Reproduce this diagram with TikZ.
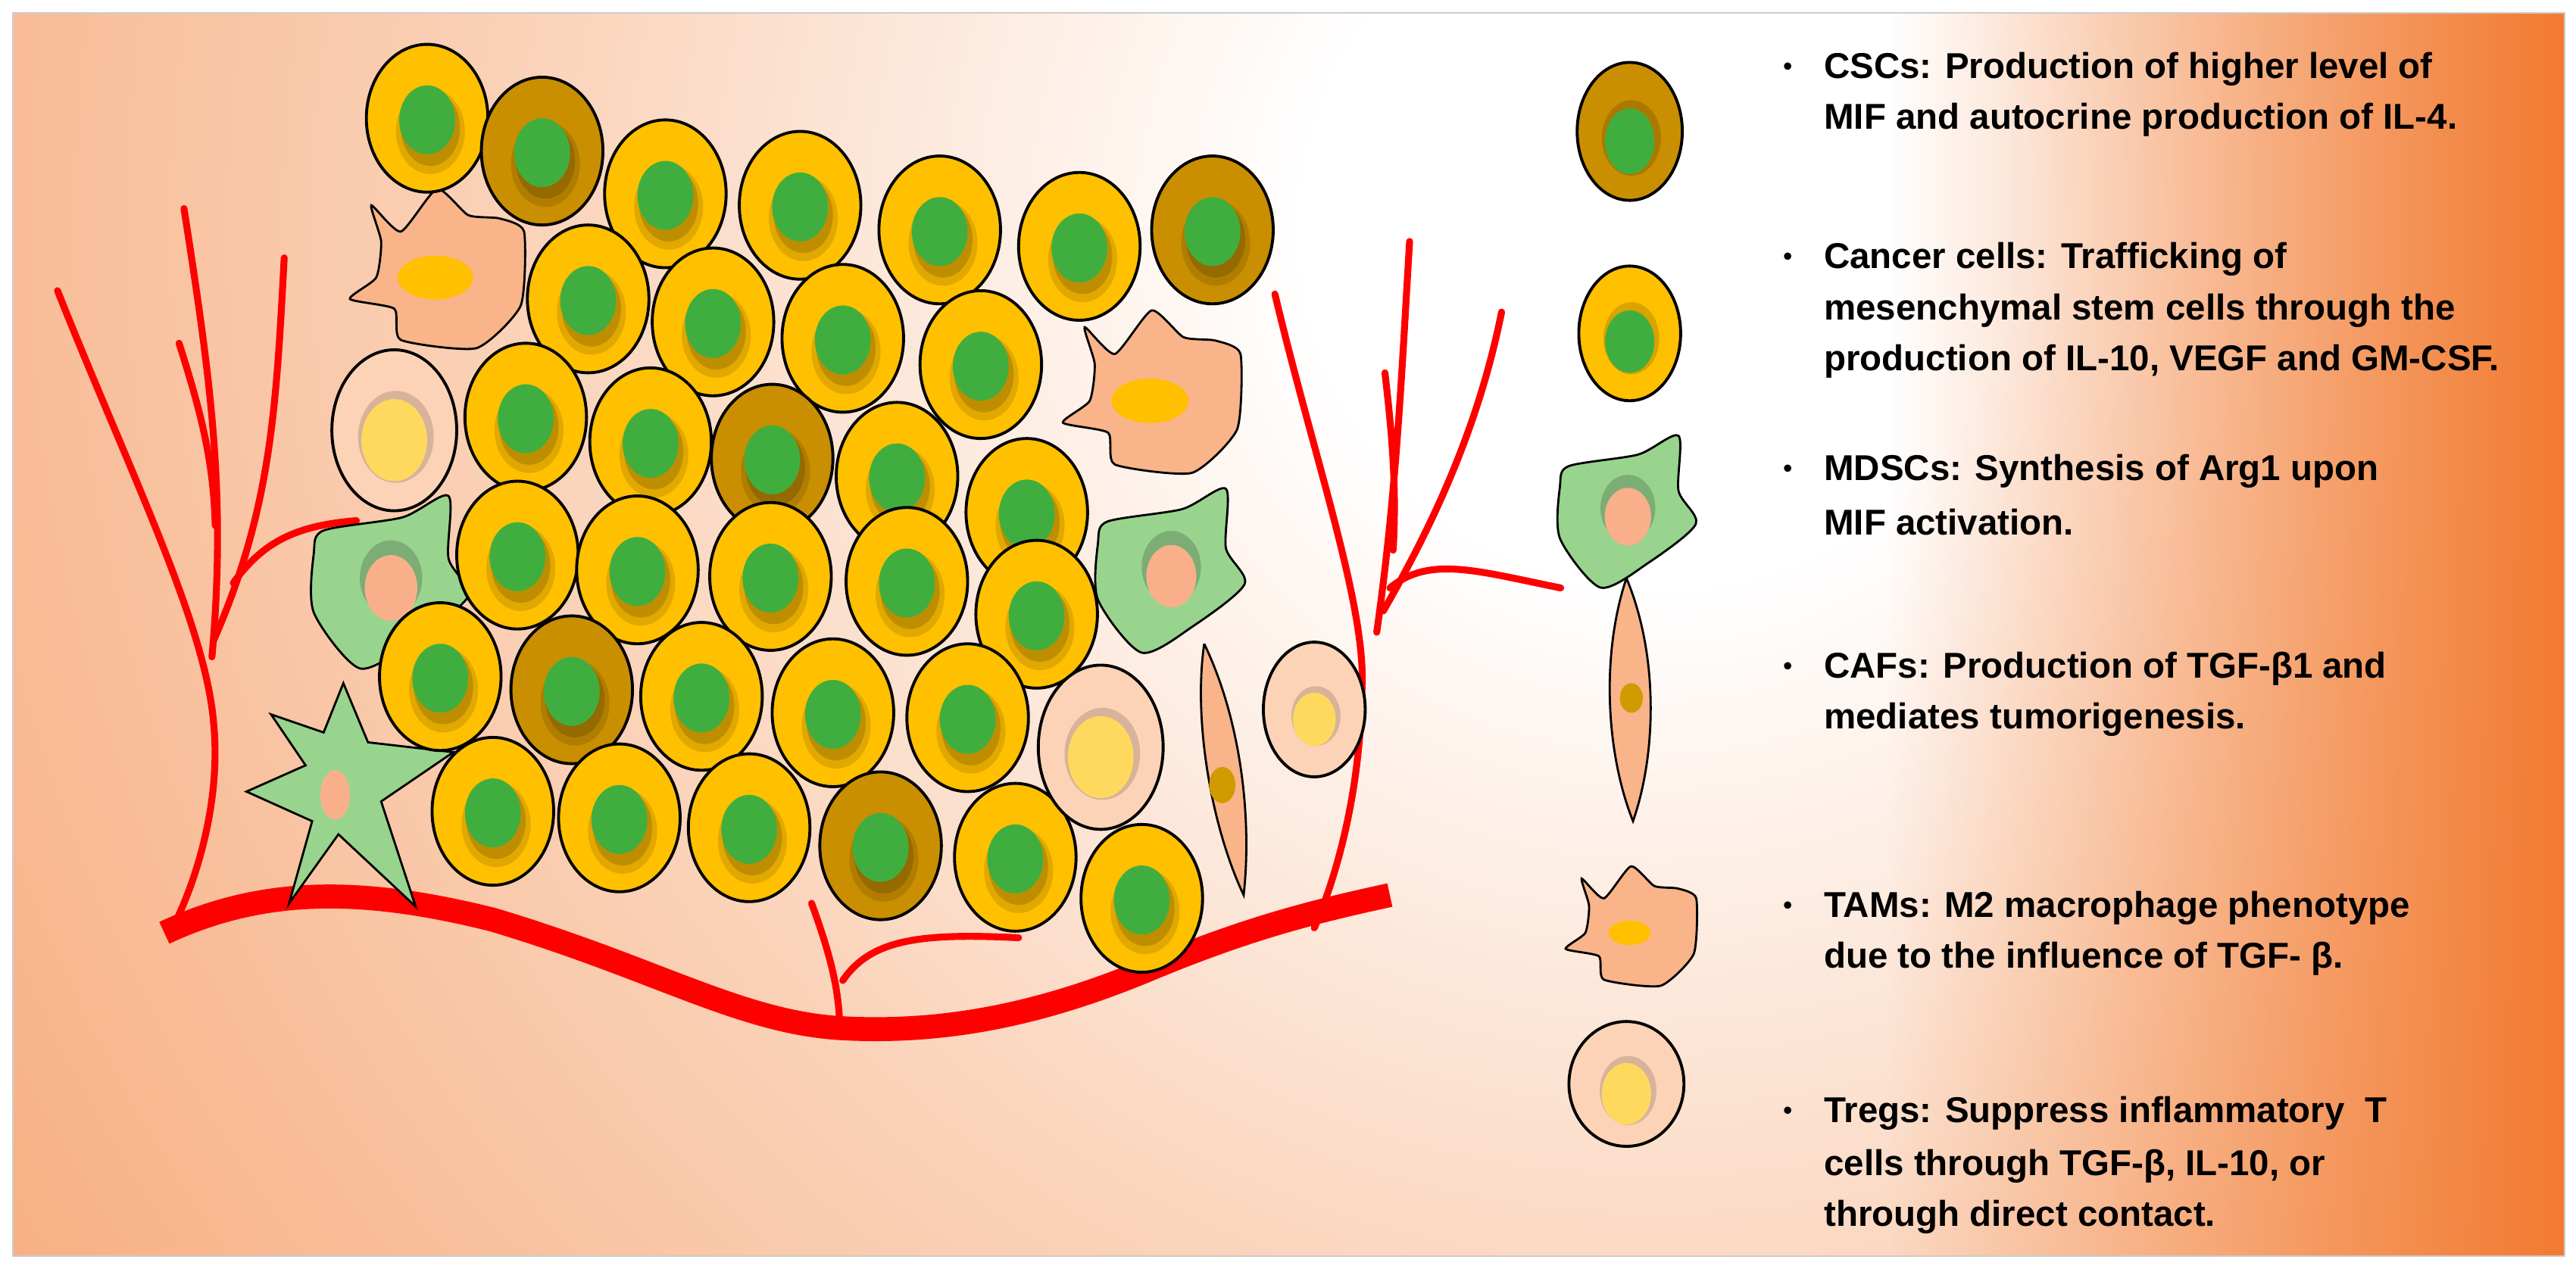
\documentclass[tikz,border=0pt]{standalone}
\usepackage{fontspec}
\setmainfont{Liberation Sans}
\usetikzlibrary{fadings}
\definecolor{cy}{HTML}{FFC000}
\definecolor{ccsc}{HTML}{C98F00}
\definecolor{cg}{HTML}{40AE3F}
\definecolor{tregF}{HTML}{FCD3B6}
\definecolor{tregN}{HTML}{FFD95E}
\definecolor{tamF}{HTML}{F9B48A}
\definecolor{mdF}{HTML}{98D48E}
\definecolor{mdN}{HTML}{F9B08A}
\definecolor{cafN}{HTML}{D09A00}
\definecolor{bgO}{HTML}{F27A30}
\definecolor{bgP}{HTML}{FAD2B8}
\definecolor{vred}{HTML}{FF0000}
\pgfdeclareradialshading{bgsh}{\pgfpoint{0bp}{0bp}}{color(0bp)=(white); color(4bp)=(white); color(13bp)=(bgP); color(36bp)=(bgO); color(50bp)=(bgO)}
\tikzfading[name=fadeR, left color=transparent!100, right color=transparent!0]
\tikzset{
  ol/.style={draw=black, line width=1.1pt},
  ves/.style={draw=vred, line width=2.6pt, line cap=round},
  txt/.style={anchor=west, inner sep=0pt, font=\fontsize{13.5}{16}\selectfont\bfseries},
}
\newcommand\mycell[3]{%
  \draw[ol, fill=#3] (#1,#2) ellipse (37 and 45);
  \fill[black, opacity=.12] (#1+2,#2+8) ellipse (21 and 26);
  \fill[black, opacity=.15] (#1+2,#2+6) ellipse (18 and 23);
  \fill[cg] (#1,#2+1) ellipse (17 and 21);}
\newcommand\mytreg[5]{% x y rx ry scale-nucleus
  \draw[ol, fill=tregF] (#1,#2) ellipse (#3 and #4);
  \fill[black, opacity=.15] (#1+1,#2+4) ellipse (#5*1.15 and #5*1.4);
  \fill[tregN] (#1,#2+6) ellipse (#5 and #5*1.25);}
\newcommand\mytam[4]{% x y scale nucleus
  \begin{scope}[shift={(#1,#2)}, scale=#3]
  \draw[ol, line width=0.8pt, fill=tamF] plot[smooth cycle, tension=.35] coordinates {(-39,-40) (-21,-24) (1,-50) (20,-34) (39,-32) (54,-24) (52,21) (25,47) (-21,42) (-25,23) (-52,17) (-36,4) (-33,-18)};
  \fill[cy] (0,4) ellipse (#4 and #4*0.58);
  \end{scope}}
\newcommand\mymd[3]{% x y scale
  \begin{scope}[shift={(#1,#2)}, scale=#3]
  \draw[ol, line width=0.8pt, fill=mdF] plot[smooth cycle, tension=.45] coordinates {(-40,-32) (8,-40) (36,-53) (36,-15) (48,8) (15,35) (-18,52) (-46,18) (-46,-18)};
  \fill[black, opacity=.18] (1,-3) ellipse (19 and 23);
  \fill[mdN] (1,3) ellipse (16 and 20);
  \end{scope}}
\begin{document}
\begin{tikzpicture}[x=0.021690cm, y=-0.021690cm]
\useasboundingbox (0,0) rectangle (1568,772.7);
\fill[white] (0,0) rectangle (1568,772.7);
\begin{scope}
\clip (8,8) rectangle (1561,765);
\fill[bgO] (8,8) rectangle (1561,765);
\shade[shading=bgsh] (1010,140) circle (1350);
\fill[bgO, path fading=fadeR] (1150,8) rectangle (1561,765);
\end{scope}
\draw[gray!40, line width=0.6pt] (8,8) rectangle (1561,765);
% vessels
\draw[ves] (35,177) .. controls (80,290) and (125,380) .. (130,440) .. controls (135,490) and (118,540) .. (105,565);
\draw[ves] (112,127) .. controls (128,230) and (138,300) .. (129,400);
\draw[ves] (109,209) .. controls (122,250) and (130,280) .. (131,320);
\draw[ves] (173,157) .. controls (168,250) and (165,310) .. (130,390);
\draw[ves] (142,355) .. controls (160,330) and (180,320) .. (217,317);
\draw[ves] (776,179) .. controls (800,280) and (832,370) .. (829,420) .. controls (828,480) and (815,530) .. (800,565);
\draw[ves] (858,147) .. controls (853,230) and (850,300) .. (838,385);
\draw[ves] (914,190) .. controls (900,260) and (872,320) .. (842,372);
\draw[ves] (843,227) .. controls (848,270) and (850,300) .. (848,335);
\draw[ves] (846,358) .. controls (870,338) and (900,348) .. (950,358);
\draw[ves] (494,550) .. controls (505,580) and (510,600) .. (511,621);
\draw[ves] (513,597) .. controls (530,572) and (560,568) .. (620,571);
\draw[vred, line width=9pt] (100,568) .. controls (160,540) and (220,540) .. (300,560) .. controls (400,590) and (450,622) .. (511,626) .. controls (580,630) and (640,615) .. (700,590) .. controls (760,565) and (800,555) .. (846,545);
% stromal cells
\mytam{265}{165}{1}{23}
\mytam{700}{240}{1.02}{23}
\mytreg{240}{262}{38}{49}{20}
\mymd{237}{355}{1}
\mymd{712}{348}{0.95}
\draw[ol, line width=0.8pt, fill=mdF] (209,416) -- (224,452) -- (276,458) -- (232,488) -- (253,552) -- (206,508) -- (176,550) -- (190,500) -- (150,482) -- (186,466) -- (165,435) -- (197,446) -- cycle;
\fill[mdN] (204,484) ellipse (9 and 15);
% cancer cells
\mycell{260}{72}{cy}\mycell{330}{92}{ccsc}\mycell{405}{118}{cy}\mycell{487}{125}{cy}\mycell{572}{140}{cy}\mycell{657}{150}{cy}\mycell{738}{140}{ccsc}
\mycell{358}{182}{cy}\mycell{434}{196}{cy}\mycell{513}{206}{cy}\mycell{597}{222}{cy}
\mycell{320}{254}{cy}\mycell{396}{269}{cy}\mycell{470}{279}{ccsc}\mycell{546}{290}{cy}\mycell{625}{312}{cy}
\mycell{315}{338}{cy}\mycell{388}{347}{cy}\mycell{469}{351}{cy}\mycell{552}{354}{cy}\mycell{631}{374}{cy}
\mycell{268}{412}{cy}\mycell{348}{420}{ccsc}\mycell{427}{424}{cy}\mycell{507}{434}{cy}\mycell{589}{437}{cy}
\mycell{300}{494}{cy}\mycell{377}{498}{cy}\mycell{456}{504}{cy}\mycell{536}{515}{ccsc}\mycell{618}{522}{cy}\mycell{695}{547}{cy}
% right side cells
\mytreg{670}{455}{38}{50}{20}
\draw[ol, line width=0.8pt, fill=tamF] (733,392) .. controls (756,440) and (762,500) .. (757,545) .. controls (738,505) and (726,440) .. (733,392);
\fill[cafN] (744,478) ellipse (8 and 11);
\mytreg{800}{432}{31}{41}{13}
% legend icons
\draw[ol, fill=ccsc] (992,80) ellipse (32 and 42);
\fill[black,opacity=.15] (993,84) ellipse (18 and 23);
\fill[cg] (992,86) ellipse (15 and 20);
\draw[ol, fill=cy] (992,203) ellipse (31 and 41);
\fill[black,opacity=.15] (993,206) ellipse (17 and 22);
\fill[cg] (992,208) ellipse (15 and 19);
\mymd{990}{312}{0.88}
\draw[ol, line width=0.8pt, fill=tamF] (990,352) .. controls (1010,400) and (1008,460) .. (994,500) .. controls (978,460) and (974,400) .. (990,352);
\fill[cafN] (993,425) ellipse (7 and 9);
\mytam{992}{565}{0.75}{17}
\mytreg{990}{660}{35}{38}{15}
% texts
\foreach \yy/\tt [count=\i] in {
 42/{CSCs: Production of higher level of},
 73/{MIF and autocrine production of IL-4.},
 158/{Cancer cells: Trafficking of},
 189/{mesenchymal stem cells through the},
 220/{production of IL-10, VEGF and GM-CSF.},
 287/{MDSCs: Synthesis of Arg1 upon},
 318/{MIF activation.},
 407/{CAFs: Production of TGF-β1 and},
 438/{mediates tumorigenesis.},
 553/{TAMs: M2 macrophage phenotype},
 584/{due to the influence of TGF- β.},
 678/{Tregs: Suppress inflammatory\ \ T},
 710/{cells through TGF-β, IL-10, or},
 741/{through direct contact.}}
 \node[txt] (t\i) at (1110,\yy) {\tt};
\foreach \yy [count=\i] in {42,158,287,407,553,678}
 \node[txt, font=\fontsize{10}{12}\selectfont] (b\i) at (1085,\yy) {•};
\end{tikzpicture}
\end{document}
